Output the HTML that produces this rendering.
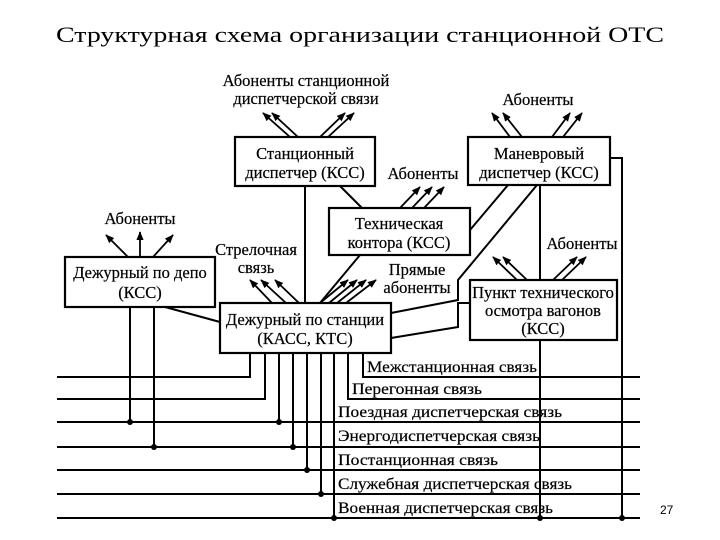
<!DOCTYPE html>
<html><head><meta charset="utf-8"><style>body{margin:0;background:#fff}svg{display:block}</style></head><body>
<svg width="720" height="540" viewBox="0 0 720 540" xmlns="http://www.w3.org/2000/svg">
<defs><marker id="a" viewBox="0 0 10 10" refX="9" refY="5" markerWidth="5" markerHeight="5" orient="auto"><path d="M0,1 L10,5 L0,9 z" fill="#000"/></marker></defs>
<text x="360" y="42" font-family="Liberation Serif, serif" font-size="22" text-anchor="middle" textLength="608" lengthAdjust="spacingAndGlyphs">Структурная схема организации станционной ОТС</text>
<g fill="none" stroke="#000" stroke-width="2.2">
<rect x="235" y="137" width="140" height="49"/>
<rect x="468" y="137" width="142" height="48"/>
<rect x="329" y="208" width="141" height="47"/>
<rect x="65" y="257" width="150" height="50"/>
<rect x="220" y="303" width="171" height="50"/>
<rect x="470" y="280" width="147" height="60"/>
</g>
<g fill="none" stroke="#000" stroke-width="2">
<path d="M57,377H250V353 M57,399H265V353 M57,422H640 M57,447H640 M57,470H640 M57,494H640 M57,518H640 M348,353V399H640 M363,353V377H640"/>
<path d="M279,353V422 M293,353V447 M307,353V470 M321,353V494 M334,353V518 M130,307V422 M154,307V447"/>
<path d="M540,185V280 M540,340V518 M610,158H622V518"/>
<path d="M305,186V303 M340,186L362,208 M165,307L220,322 M360,255L320,303"/>
<path d="M508,185L470,230 M537,185L458,280V300L391,313 M470,303H458V327L391,338"/>
</g>
<g fill="#000">
<circle cx="130" cy="422" r="3"/><circle cx="154" cy="447" r="3"/><circle cx="279" cy="422" r="3"/><circle cx="293" cy="447" r="3"/><circle cx="307" cy="470" r="3"/><circle cx="321" cy="494" r="3"/><circle cx="334" cy="518" r="3"/><circle cx="540" cy="518" r="3"/><circle cx="622" cy="518" r="3"/>
</g>
<g stroke="#000" stroke-width="1.8" marker-end="url(#a)">
<line x1="290" y1="137" x2="263" y2="113"/><line x1="298" y1="137" x2="272" y2="113"/>
<line x1="320" y1="137" x2="345" y2="113"/><line x1="328" y1="137" x2="354" y2="113"/>
<line x1="510" y1="137" x2="492" y2="113"/><line x1="522" y1="137" x2="503" y2="113"/>
<line x1="552" y1="137" x2="570" y2="113"/><line x1="563" y1="137" x2="582" y2="113"/>
<line x1="400" y1="208" x2="420" y2="187"/><line x1="412" y1="208" x2="432" y2="187"/><line x1="424" y1="208" x2="444" y2="187"/>
<line x1="128" y1="257" x2="106" y2="235"/><line x1="140" y1="257" x2="140" y2="232"/><line x1="153" y1="257" x2="173" y2="235"/>
<line x1="272" y1="303" x2="250" y2="280"/><line x1="286" y1="303" x2="261" y2="280"/><line x1="299" y1="303" x2="275" y2="280"/>
<line x1="320" y1="303" x2="348" y2="280"/><line x1="329" y1="303" x2="357" y2="280"/><line x1="337" y1="303" x2="366" y2="280"/><line x1="346" y1="303" x2="376" y2="280"/>
<line x1="517" y1="280" x2="493" y2="257"/><line x1="527" y1="280" x2="503" y2="257"/>
<line x1="553" y1="280" x2="577" y2="257"/><line x1="562" y1="280" x2="586" y2="257"/>
</g>
<g font-family="Liberation Serif, serif" font-size="16.5" fill="#000" stroke="#000" stroke-width="0.2" text-anchor="middle">
<text x="306" y="86">Абоненты станционной</text>
<text x="306" y="104">диспетчерской связи</text>
<text x="305" y="159">Станционный</text>
<text x="305" y="178">диспетчер (КСС)</text>
<text x="538" y="105">Абоненты</text>
<text x="539" y="159">Маневровый</text>
<text x="539" y="178">диспетчер (КСС)</text>
<text x="423" y="179">Абоненты</text>
<text x="399" y="229">Техническая</text>
<text x="399" y="248">контора (КСС)</text>
<text x="140" y="224">Абоненты</text>
<text x="140" y="278">Дежурный по депо</text>
<text x="140" y="298">(КСС)</text>
<text x="256" y="255">Стрелочная</text>
<text x="256" y="273">связь</text>
<text x="417" y="275">Прямые</text>
<text x="417" y="293">абоненты</text>
<text x="305" y="325">Дежурный по станции</text>
<text x="305" y="344">(КАСС, КТС)</text>
<text x="582" y="249">Абоненты</text>
<text x="543" y="298">Пункт технического</text>
<text x="543" y="316">осмотра вагонов</text>
<text x="543" y="334">(КСС)</text>
</g>
<g font-family="Liberation Serif, serif" font-size="16" fill="#000" stroke="#000" stroke-width="0.2">
<text x="367" y="372" textLength="170" lengthAdjust="spacingAndGlyphs">Межстанционная связь</text>
<text x="352" y="394" textLength="130" lengthAdjust="spacingAndGlyphs">Перегонная связь</text>
<text x="338" y="417" textLength="224" lengthAdjust="spacingAndGlyphs">Поездная диспетчерская связь</text>
<text x="338" y="441" textLength="202" lengthAdjust="spacingAndGlyphs">Энергодиспетчерская связь</text>
<text x="338" y="465" textLength="160" lengthAdjust="spacingAndGlyphs">Постанционная связь</text>
<text x="338" y="489" textLength="234" lengthAdjust="spacingAndGlyphs">Служебная диспетчерская связь</text>
<text x="338" y="513" textLength="215" lengthAdjust="spacingAndGlyphs">Военная диспетчерская связь</text>
</g>
<text x="660" y="514" font-family="Liberation Sans, sans-serif" font-size="12">27</text>
</svg>
</body></html>
